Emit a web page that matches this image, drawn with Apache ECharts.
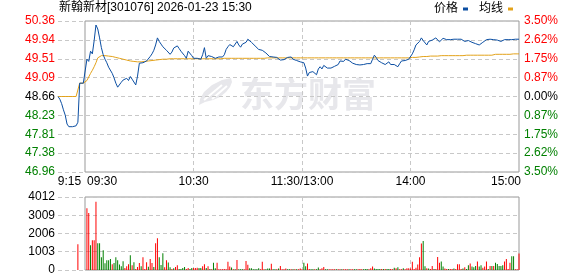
<!DOCTYPE html>
<html><head><meta charset="utf-8">
<script src="https://cdn.jsdelivr.net/npm/echarts@6/dist/echarts.min.js"></script>
<style>html,body{margin:0;padding:0;background:#fff}#c{width:578px;height:276px}</style>
</head><body><div id="c"></div>
<script>
const titleText = '新翰新材[301076] 2026-01-23 15:30';
const priceTicks = ['46.96','47.38','47.81','48.23','48.66','49.09','49.51','49.94','50.36'];
const pctTicks = ['3.50%','2.62%','1.75%','0.87%','0.00%','0.87%','1.75%','2.62%','3.50%'];
const volTicks = ['0','1003','2006','3009','4012'];
const priceMin = 46.96, priceMax = 50.36;
const volMax = 4012, volStep = 1003;
const xTickTimes = ['09:15','09:30','10:30','11:30','14:00','15:00'];
const xTickLabels = ['9:15','09:30','10:30','11:30/13:00','14:00','15:00'];
const gridTimes = ['10:30','11:30','14:00'];

// minute price, 09:15..09:30 (auction), 09:31..11:30, 13:01..15:00
const pricePre = [48.66,48.60,48.50,48.36,48.24,48.04,47.98,47.98,47.98,47.98,48.00,48.08,48.96,48.96,48.96,48.96];
const priceAM = [
49.50,49.45,49.68,49.62,49.92,50.27,50.18,49.98,49.76,49.60,
49.50,49.42,49.32,49.28,49.18,49.08,48.96,48.87,48.90,48.98,
49.03,49.00,49.07,49.02,49.11,49.05,49.08,48.92,49.12,49.41,
49.40,49.42,49.44,49.46,49.50,49.56,49.62,49.70,49.82,49.98,
49.90,49.84,49.78,49.75,49.70,49.66,49.61,49.66,49.75,49.78,
49.80,49.74,49.68,49.64,49.58,49.52,49.68,49.66,49.58,49.52,
49.56,49.52,49.55,49.50,49.60,49.76,49.52,49.58,49.54,49.56,
49.55,49.52,49.54,49.55,49.56,49.55,49.60,49.72,49.78,49.83,
49.80,49.78,49.74,49.90,49.82,49.77,49.84,49.80,49.88,49.95,
49.92,49.88,49.85,49.80,49.76,49.72,49.68,49.70,49.74,49.64,
49.60,49.56,49.58,49.55,49.52,49.54,49.50,49.48,49.50,49.49,
49.52,49.54,49.57,49.55,49.50,49.48,49.47,49.45,49.44,49.45];
const pricePM = [
49.42,49.30,49.12,49.20,49.18,49.22,49.20,49.15,49.28,49.33,
49.28,49.36,49.38,49.30,49.34,49.30,49.28,49.34,49.32,49.38,
49.46,49.47,49.45,49.50,49.50,49.47,49.45,49.41,49.40,49.38,
49.37,49.37,49.40,49.38,49.37,49.40,49.44,49.40,49.50,49.59,
49.54,49.47,49.44,49.42,49.40,49.38,49.39,49.44,49.38,49.40,
49.38,49.36,49.33,49.40,49.46,49.48,49.47,49.50,49.50,49.52,
49.62,49.71,49.82,49.86,49.90,49.98,49.92,49.88,49.82,49.90,
49.91,49.93,49.96,49.98,49.94,49.89,49.93,49.97,49.95,49.94,
49.95,49.94,49.95,49.95,49.95,49.95,49.95,49.95,49.95,49.90,
49.91,49.92,49.90,49.88,49.86,49.85,49.84,49.82,49.84,49.88,
49.92,49.94,49.95,49.95,49.94,49.94,49.93,49.93,49.92,49.90,
49.92,49.94,49.95,49.94,49.94,49.94,49.94,49.95,49.95,49.95];

const avgPre = [48.66,48.66,48.66,48.66,48.66,48.66,48.66,48.66,48.66,48.66,48.66,48.66,48.96,48.96,48.96,48.96];
const avgAM = [
49.02,49.10,49.18,49.25,49.33,49.42,49.53,49.56,49.58,49.58,
49.58,49.58,49.57,49.57,49.56,49.55,49.54,49.53,49.52,49.51,
49.50,49.49,49.48,49.47,49.46,49.46,49.45,49.45,49.44,49.44,
49.44,49.44,49.45,49.45,49.46,49.46,49.47,49.48,49.48,49.49,
49.49,49.50,49.50,49.50,49.50,49.50,49.51,49.51,49.51,49.51,
49.51,49.51,49.51,49.51,49.51,49.51,49.51,49.51,49.51,49.51,
49.51,49.51,49.51,49.51,49.51,49.51,49.51,49.51,49.51,49.51,
49.51,49.51,49.51,49.51,49.51,49.52,49.52,49.52,49.52,49.52,
49.52,49.52,49.52,49.52,49.52,49.52,49.52,49.52,49.52,49.52,
49.52,49.52,49.52,49.52,49.52,49.52,49.52,49.52,49.52,49.52,
49.53,49.53,49.53,49.53,49.53,49.53,49.53,49.53,49.53,49.53,
49.53,49.53,49.53,49.53,49.53,49.53,49.53,49.53,49.53,49.53];
const avgPM = [
49.53,49.53,49.53,49.53,49.53,49.53,49.53,49.53,49.53,49.53,
49.53,49.53,49.53,49.53,49.53,49.53,49.53,49.53,49.53,49.53,
49.53,49.53,49.53,49.53,49.53,49.53,49.53,49.53,49.53,49.53,
49.53,49.53,49.53,49.53,49.53,49.53,49.53,49.53,49.53,49.53,
49.53,49.53,49.53,49.53,49.53,49.53,49.53,49.53,49.53,49.53,
49.53,49.53,49.53,49.53,49.53,49.53,49.53,49.53,49.53,49.53,
49.54,49.54,49.54,49.55,49.55,49.56,49.56,49.56,49.56,49.56,
49.57,49.57,49.57,49.57,49.57,49.58,49.58,49.58,49.58,49.58,
49.58,49.58,49.58,49.58,49.58,49.58,49.58,49.58,49.58,49.58,
49.59,49.59,49.59,49.59,49.59,49.59,49.59,49.59,49.59,49.59,
49.59,49.59,49.59,49.59,49.59,49.60,49.61,49.61,49.61,49.61,
49.61,49.61,49.61,49.61,49.61,49.62,49.62,49.62,49.62,49.62];

// minute volume (lots), same minutes as above
const volume = [
0,0,0,0,0,0,0,0,0,0,
0,1420,0,0,0,0,3400,3130,1360,1640,
1640,3750,1470,1470,700,1090,370,530,530,610,
310,380,700,530,300,200,480,110,200,310,
810,260,420,60,170,390,200,700,60,420,
180,610,390,160,1470,1750,700,280,920,150,
530,410,150,60,90,170,260,60,60,110,
170,60,110,60,110,110,110,130,110,110,
200,310,110,200,60,40,400,100,400,40,
40,40,50,40,450,190,140,40,40,550,
40,40,40,40,500,290,100,100,40,40,
40,90,40,450,40,40,80,80,350,40,
40,40,80,220,40,40,80,40,40,40,
40,40,40,40,80,40,400,200,360,60,
40,40,40,40,140,40,100,170,40,40,
40,40,40,40,40,40,40,40,40,40,
40,40,40,40,40,40,40,60,40,40,
50,50,40,100,190,80,50,50,50,50,
50,50,50,50,50,40,120,100,150,40,
40,100,40,100,100,80,450,50,120,300,
700,1450,1600,200,100,80,50,220,50,50,
710,400,470,190,80,50,50,50,50,80,
50,310,310,50,80,150,50,260,360,190,
150,220,470,190,260,120,190,470,50,225,
225,225,400,330,225,225,260,470,600,50,
400,760,760,40,40,900];
// r = up (red), g = down (green)
const volDir = (
'rrrrrrrrrr'+'rrrrrrrrgr'+'rrgggggggg'+'rggggggrrr'+'grgrrrgrrr'+
'grrgrrgggr'+'rggrgrrggg'+'grrggrrrgg'+'rrgrgrggrr'+'rrrrrrgrgr'+
'gggrrrgggg'+'ggrrrgggrg'+'grgrrrrggr'+'grgrrrggrr'+'ggrggrrrgg'+
'rrrrgrrgrr'+'rgrrggrrrg'+'ggrrrggggr'+'grggrrgrgr'+'rgrrrrrrrr'+
'rrggrgrrgr'+'rrggrrgrrg'+'rrrrgrggrg'+'ggrggrrrgr'+'grgggggrrr'+'rggrrr').split('');

// session minute labels
function pad(n){return (n<10?'0':'')+n;}
const times = [];
for (let m = 9*60+15; m <= 11*60+30; m++) times.push(pad(Math.floor(m/60))+':'+pad(m%60));
for (let m = 13*60+1; m <= 15*60; m++) times.push(pad(Math.floor(m/60))+':'+pad(m%60));

const price = pricePre.concat(priceAM, pricePM);
const avg = avgPre.concat(avgAM, avgPM);

const RED = '#ff0000', GREEN = '#008000', BLUE = '#0b4ea2', ORANGE = '#e3a21a';
const FONT = '"Liberation Sans","Noto Sans CJK SC",sans-serif';
const dash = {type:[4,3], color:'#c8c8c8', width:1};
const WM = '#e7e7eb';

const chart = echarts.init(document.getElementById('c'), null, {renderer:'canvas'});
const L = 58, R = 59, FL = 85;
chart.setOption({
  animation: false,
  title: {text: titleText, left: 59, top: 2, padding: 0,
    textStyle: {fontSize: 12, fontWeight: 'normal', color: '#000', fontFamily: FONT}},
  legend: {data: ['价格','均线'], right: 65, top: 3, padding: 0, align: 'right',
    itemWidth: 5, itemHeight: 3, itemGap: 11, icon: 'rect',
    textStyle: {fontSize: 12, color: '#000', fontFamily: FONT}},
  graphic: [
    {type: 'polygon', z: -1, silent: true,
     shape: {points: [[231,78],[222,80],[212,85],[204,92],[200,99],[199,105],[205,102],[213,100],[220,97],[226,92],[230,87],[232,82]]},
     style: {fill: WM}},
    {type: 'line', z: -1, silent: true, shape: {x1: 204, y1: 100, x2: 222, y2: 85}, style: {stroke: '#fff', lineWidth: 2}},
    {type: 'line', z: -1, silent: true, shape: {x1: 212, y1: 99, x2: 227, y2: 86}, style: {stroke: '#fff', lineWidth: 2}},
    {type: 'text', z: -1, silent: true, x: 240, y: 77,
     style: {text: '东方财富', fill: WM, font: 'bold 34px "Noto Sans CJK SC"'}}
  ],
  grid: [
    {left: L, right: R, top: 21, height: 151},
    {left: FL, right: R, top: 21, height: 151, show: true, borderColor: '#999', borderWidth: 1, backgroundColor: 'transparent'},
    {left: L, right: R, top: 197, height: 73},
    {left: FL, right: R, top: 197, height: 73, show: true, borderColor: '#999', borderWidth: 1, backgroundColor: 'transparent'}
  ],
  xAxis: [
    {type: 'category', gridIndex: 0, data: times, boundaryGap: false,
     axisLine: {show: false}, axisTick: {show: false},
     splitLine: {show: true, interval: (i, v) => gridTimes.indexOf(v) >= 0, lineStyle: dash},
     axisLabel: {show: true, margin: 4, interval: (i, v) => xTickTimes.indexOf(v) >= 0,
       fontSize: 12, color: '#000', fontFamily: FONT,
       formatter: function (v) {
         const k = xTickTimes.indexOf(v);
         if (k < 0) return '';
         if (k === 0) return '{l|' + xTickLabels[k] + '}';
         if (k === 1) return '{a|' + xTickLabels[k] + '}';
         if (k === xTickTimes.length - 1) return '{r|' + xTickLabels[k] + '}';
         return '{c|' + xTickLabels[k] + '}';
       },
       rich: {
         l: {padding: [0,0,0,23], fontSize: 12, fontFamily: FONT, color: '#000'},
         a: {padding: [0,0,0,34], fontSize: 12, fontFamily: FONT, color: '#000'},
         r: {padding: [0,26,0,0], fontSize: 12, fontFamily: FONT, color: '#000'},
         c: {fontSize: 12, fontFamily: FONT, color: '#000'}
       }}},
    {type: 'category', gridIndex: 2, data: times, boundaryGap: false,
     axisLine: {show: false}, axisTick: {show: false}, axisLabel: {show: false},
     splitLine: {show: true, interval: (i, v) => gridTimes.indexOf(v) >= 0, lineStyle: dash}},
    {type: 'value', gridIndex: 1, show: false, min: 0, max: 1},
    {type: 'value', gridIndex: 3, show: false, min: 0, max: 1}
  ],
  yAxis: [
    {type: 'value', gridIndex: 0, position: 'left', min: 0, max: priceTicks.length - 1, interval: 1,
     axisLine: {show: false}, axisTick: {show: false},
     splitLine: {show: true, lineStyle: dash},
     axisLabel: {margin: 3, fontSize: 12, fontFamily: FONT,
       formatter: v => priceTicks[v],
       color: v => (Number(v) > 4 ? RED : Number(v) < 4 ? GREEN : '#000')}},
    {type: 'value', gridIndex: 0, position: 'right', min: 0, max: pctTicks.length - 1, interval: 1,
     axisLine: {show: false}, axisTick: {show: false}, splitLine: {show: false},
     axisLabel: {margin: 5, fontSize: 12, fontFamily: FONT,
       formatter: v => pctTicks[pctTicks.length - 1 - v],
       color: v => (Number(v) > 4 ? RED : Number(v) < 4 ? GREEN : '#000')}},
    {type: 'value', gridIndex: 0, show: false, min: priceMin, max: priceMax},
    {type: 'value', gridIndex: 2, position: 'left', min: 0, max: volMax, interval: volStep,
     axisLine: {show: false}, axisTick: {show: false},
     splitLine: {show: true, lineStyle: dash},
     axisLabel: {margin: 3, fontSize: 12, fontFamily: FONT, color: '#000',
       formatter: v => volTicks[Math.round(v / volStep)]}},
    {type: 'value', gridIndex: 1, show: false, min: 0, max: 1},
    {type: 'value', gridIndex: 3, show: false, min: 0, max: 1}
  ],
  series: [
    {name: '价格', type: 'line', xAxisIndex: 0, yAxisIndex: 2, data: price, showSymbol: false, symbol: 'none',
     color: BLUE, lineStyle: {width: 1, color: BLUE}, z: 4},
    {name: '均线', type: 'line', xAxisIndex: 0, yAxisIndex: 2, data: avg, showSymbol: false, symbol: 'none',
     color: ORANGE, lineStyle: {width: 1, color: ORANGE}, z: 3},
    {name: '成交量', type: 'bar', xAxisIndex: 1, yAxisIndex: 3, barWidth: 1,
     data: volume.map((v, i) => ({value: v, itemStyle: {color: volDir[i] === 'r' ? RED : GREEN}}))}
  ]
});
</script></body></html>
